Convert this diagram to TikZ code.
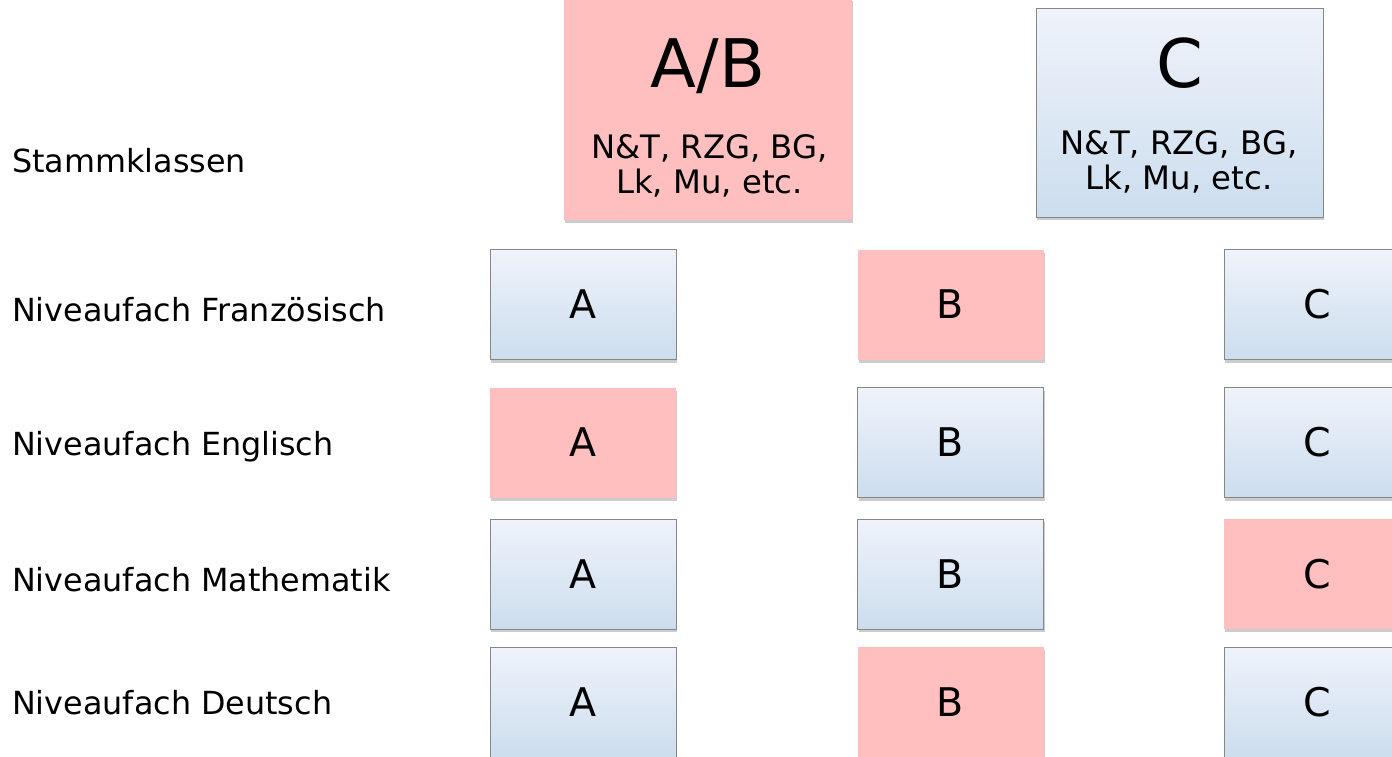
\documentclass[tikz,border=0pt]{standalone}
\usepackage{fontspec}
\setmainfont{DejaVu Sans}
\usetikzlibrary{positioning,shadows}

\definecolor{rosa}{RGB}{255,191,191}
\definecolor{hellblau}{RGB}{239,243,250}
\definecolor{mittelblau}{RGB}{204,221,238}
\definecolor{rahmen}{RGB}{135,135,135}

\begin{document}
\begin{tikzpicture}[x=1pt,y=-1pt,on grid,
    kasten/.style={minimum width=186pt,minimum height=110pt,inner sep=0pt,
      font=\fontsize{39.5}{44}\selectfont,
      drop shadow={shadow xshift=1pt,shadow yshift=-3pt,opacity=0.4}},
    niveau/.style={kasten,draw=rahmen,line width=0.8pt,top color=hellblau,bottom color=mittelblau},
    wahl/.style={kasten,fill=rosa},
    zeile/.style={anchor=west,inner sep=0pt,font=\fontsize{31.8}{36}\selectfont},
    titel/.style={inner sep=0pt,font=\fontsize{67}{72}\selectfont},
    faecher/.style={inner sep=0pt,align=center,font=\fontsize{32.3}{35}\selectfont}]
  \useasboundingbox (0,0) rectangle (1392,756);

  % Stammklassen
  \node[kasten,fill=rosa,minimum width=288pt,minimum height=222pt] (stammAB) at (708,109) {};
  \node[kasten,draw=rahmen,line width=0.8pt,top color=hellblau,bottom color=mittelblau,
        minimum width=287pt,minimum height=209pt] (stammC) at (1179.5,112.5) {};
  \node[titel] (titelAB) at (708,66) {A/B};
  \node[faecher] (faecherAB) at (709.5,166) {N\&T, RZG, BG,\\Lk, Mu, etc.};
  \node[titel] (titelC) at (1179.5,63) {C};
  \node[faecher] (faecherC) at (1179,162) {N\&T, RZG, BG,\\Lk, Mu, etc.};

  % Niveaufaecher
  \node[niveau] (fA) at (583,304.5) {A};
  \node[wahl]   (fB) [right=367.5pt of fA] {B};
  \node[niveau] (fC) [right=366.5pt of fB] {C};

  \node[wahl]   (eA) [below=138pt of fA] {A};
  \node[niveau] (eB) [below=138pt of fB] {B};
  \node[niveau] (eC) [below=138pt of fC] {C};

  \node[niveau] (mA) [below=131.5pt of eA] {A};
  \node[niveau] (mB) [below=131.5pt of eB] {B};
  \node[wahl]   (mC) [below=131.5pt of eC] {C};

  \node[niveau] (dA) [below=128pt of mA] {A};
  \node[wahl]   (dB) [below=128pt of mB] {B};
  \node[niveau] (dC) [below=128pt of mC] {C};

  % Zeilen
  \node[zeile] (stamm) at (12,161) {Stammklassen};
  \node[zeile] (franz) at (12,310) {Niveaufach Französisch};
  \node[zeile] (engl)  at (12,447) {Niveaufach Englisch};
  \node[zeile] (mathe) at (12,580) {Niveaufach Mathematik};
  \node[zeile] (deutsch) at (12,703) {Niveaufach Deutsch};
\end{tikzpicture}
\end{document}
